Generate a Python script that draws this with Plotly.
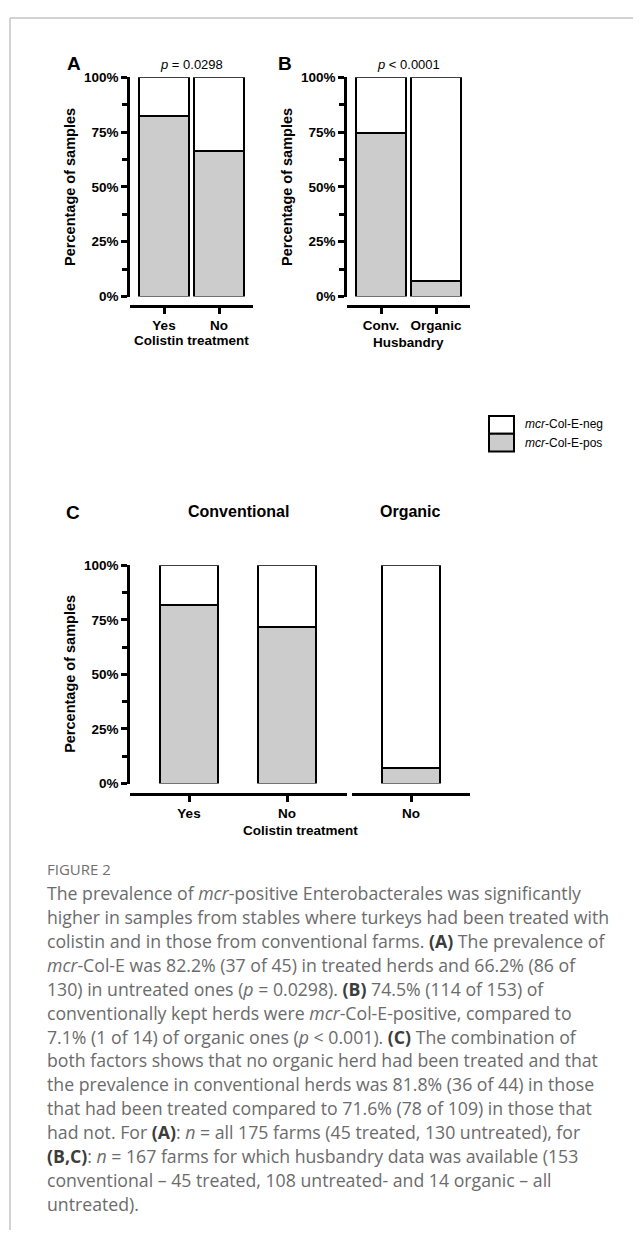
import plotly.graph_objects as go

# The page body has a default 8px margin, so the figure is shifted by OFF px.
OFF = 8
W, H = 641 - OFF, 1238 - OFF


def fx(x):
    return (x - OFF) / W


def fy(y):
    return 1 - (y - OFF) / H


# ---------------- data ----------------
cats_A = ["Yes", "No"]
pos_A = [82.2, 66.2]          # % mcr-Col-E-pos, colistin treatment
cats_B = ["Conv.", "Organic"]
pos_B = [74.5, 7.1]           # % mcr-Col-E-pos, husbandry
cats_C_conv = ["Yes", "No"]
pos_C_conv = [81.8, 71.6]     # conventional farms by treatment
cats_C_org = ["No"]
pos_C_org = [7.1]             # organic farms (all untreated)
y_ticks = [0, 25, 50, 75, 100]
y_ticklabels = ["0%", "25%", "50%", "75%", "100%"]
series_names = ["mcr-Col-E-pos", "mcr-Col-E-neg"]

POS_COLOR = "#cccccc"
NEG_COLOR = "#ffffff"
TICKFONT = dict(family="Liberation Sans", size=13.5, color="black", weight="bold")

fig = go.Figure()


def add_stack(cats, pos, xa, ya, width):
    neg = [100 - v for v in pos]
    fig.add_trace(go.Bar(x=cats, y=pos, width=width, name=series_names[0],
                         marker=dict(color=POS_COLOR, line=dict(color="black", width=2)),
                         xaxis=xa, yaxis=ya, showlegend=False, hoverinfo="x+y"))
    fig.add_trace(go.Bar(x=cats, y=neg, width=width, name=series_names[1],
                         marker=dict(color=NEG_COLOR, line=dict(color="black", width=2)),
                         xaxis=xa, yaxis=ya, showlegend=False, hoverinfo="x+y"))


add_stack(cats_A, pos_A, "x", "y", 0.91)
add_stack(cats_B, pos_B, "x2", "y2", 0.91)
add_stack(cats_C_conv, pos_C_conv, "x3", "y3", 0.59)
add_stack(cats_C_org, pos_C_org, "x4", "y4", 0.59)


def xaxis(dom, pos_y, rng):
    return dict(domain=[fx(dom[0]), fx(dom[1])], anchor="free", position=fy(pos_y),
                range=rng, type="category", showline=True, linewidth=2.5, linecolor="black",
                ticks="outside", ticklen=6, tickwidth=2.5, tickcolor="black",
                tickfont=TICKFONT, showgrid=False, zeroline=False, fixedrange=True)


def yaxis(dom, anchor, visible=True):
    return dict(domain=[fy(dom[1]), fy(dom[0])], anchor=anchor, range=[0, 100],
                tickvals=y_ticks, ticktext=y_ticklabels, visible=visible,
                showline=True, linewidth=2.5, linecolor="black",
                ticks="outside", ticklen=6, tickwidth=2.5, tickcolor="black",
                minor=dict(dtick=12.5, tick0=0, ticks="outside", ticklen=5,
                           tickwidth=2.5, tickcolor="black", showgrid=False),
                tickfont=TICKFONT, showgrid=False, zeroline=False, fixedrange=True)


fig.update_layout(
    width=W, height=H, margin=dict(l=0, r=0, t=0, b=0),
    paper_bgcolor="white", plot_bgcolor="white",
    barmode="stack", showlegend=False,
    xaxis=xaxis((130, 253), 303, [-0.618, 1.618]),
    yaxis=yaxis((71, 293), "x"),
    xaxis2=xaxis((347, 470), 303, [-0.618, 1.618]),
    yaxis2=yaxis((71, 293), "x2"),
    xaxis3=xaxis((130, 347), 797, [-0.602, 1.612]),
    yaxis3=yaxis((565, 786), "x3"),
    xaxis4=xaxis((352, 470), 797, [-0.602, 0.602]),
    yaxis4=yaxis((565, 786), "x4", visible=False),
)

ann = []


def text(x, y, s, size, bold=False, color="black", family="Liberation Sans",
         xanchor="center", angle=0):
    ann.append(dict(x=fx(x), y=fy(y), xref="paper", yref="paper", text=s, showarrow=False,
                    xanchor=xanchor, yanchor="middle", textangle=angle,
                    font=dict(family=family, size=size, color=color,
                              weight="bold" if bold else "normal")))


# panel letters
text(74, 57, "A", 19, bold=True)
text(285, 57, "B", 19, bold=True)
text(73, 512, "C", 19, bold=True)

# p-values
text(191, 58, "<i>p</i> = 0.0298", 13)
text(408, 58, "<i>p</i> &lt; 0.0001", 13)

# axis titles
text(70, 182, "Percentage of samples", 14.5, bold=True, angle=-90)
text(287, 182, "Percentage of samples", 14.5, bold=True, angle=-90)
text(70, 675, "Percentage of samples", 14.5, bold=True, angle=-90)
text(191.5, 338, "Colistin treatment", 13.5, bold=True)
text(408.5, 340, "Husbandry", 13.5, bold=True)
text(300, 834, "Colistin treatment", 13.5, bold=True)

# panel C group titles
text(238, 511, "Conventional", 16, bold=True)
text(411, 511, "Organic", 16, bold=True)

# legend
text(523, 422, "<i>mcr</i>-Col-E-neg", 12, xanchor="left")
text(523, 441, "<i>mcr</i>-Col-E-pos", 12, xanchor="left")

# caption
text(45, 873, "FIGURE 2", 15, color="#707070", family="Open Sans", xanchor="left")
B = lambda s: "<span style='color:#3c3c3c'><b>" + s + "</b></span>"
lines = [
    "The prevalence of <i>mcr</i>-positive Enterobacterales was significantly",
    "higher in samples from stables where turkeys had been treated with",
    "colistin and in those from conventional farms. " + B("(A)") + " The prevalence of",
    "<i>mcr</i>-Col-E was 82.2% (37 of 45) in treated herds and 66.2% (86 of",
    "130) in untreated ones (<i>p</i> = 0.0298). " + B("(B)") + " 74.5% (114 of 153) of",
    "conventionally kept herds were <i>mcr</i>-Col-E-positive, compared to",
    "7.1% (1 of 14) of organic ones (<i>p</i> &lt; 0.001). " + B("(C)") + " The combination of",
    "both factors shows that no organic herd had been treated and that",
    "the prevalence in conventional herds was 81.8% (36 of 44) in those",
    "that had been treated compared to 71.6% (78 of 109) in those that",
    "had not. For " + B("(A)") + ": <i>n</i> = all 175 farms (45 treated, 130 untreated), for",
    B("(B,C)") + ": <i>n</i> = 167 farms for which husbandry data was available (153",
    "conventional \u2013 45 treated, 108 untreated- and 14 organic \u2013 all",
    "untreated).",
]
for i, s in enumerate(lines):
    text(45, 897 + 24.2 * i, s, 17.7, family="Open Sans", color="#6b6b6b", xanchor="left")

fig.update_layout(annotations=ann)

# legend swatches and page frame
shapes = [
    dict(type="rect", xref="paper", yref="paper", x0=fx(489), x1=fx(514), y0=fy(432), y1=fy(414),
         fillcolor=NEG_COLOR, line=dict(color="black", width=2)),
    dict(type="rect", xref="paper", yref="paper", x0=fx(489), x1=fx(514), y0=fy(450), y1=fy(432),
         fillcolor=POS_COLOR, line=dict(color="black", width=2)),
    dict(type="line", xref="paper", yref="paper", x0=fx(10), x1=1, y0=fy(11), y1=fy(11),
         line=dict(color="#c4c4c4", width=1.5)),
    dict(type="line", xref="paper", yref="paper", x0=fx(10), x1=fx(10), y0=fy(11), y1=0,
         line=dict(color="#c4c4c4", width=1.5)),
]
fig.update_layout(shapes=shapes)

fig.write_html("out.html")
